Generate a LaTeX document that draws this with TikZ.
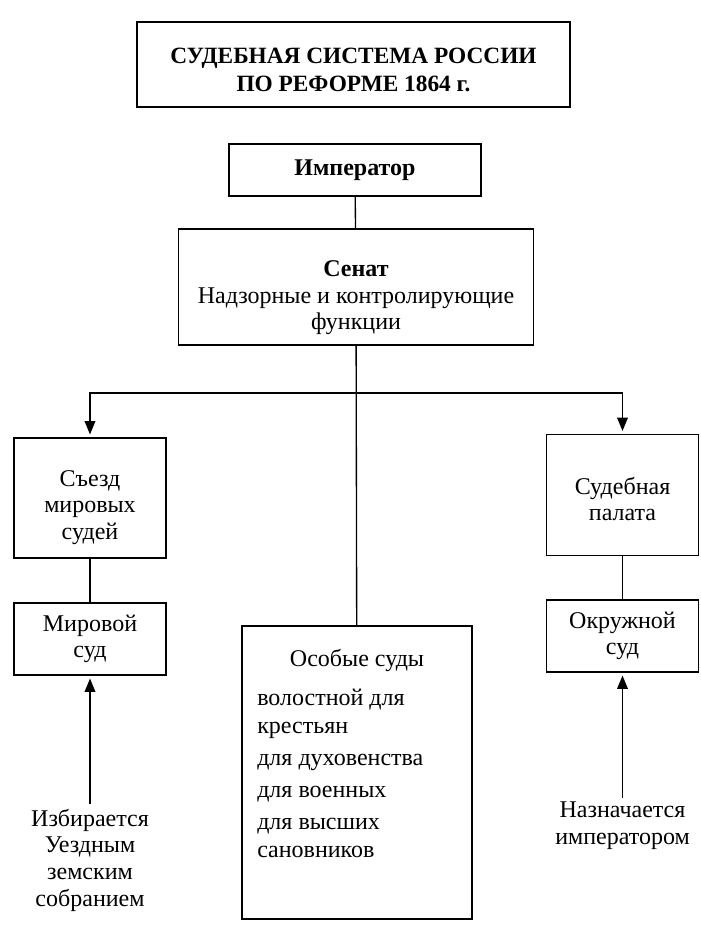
\documentclass[tikz,border=0pt]{standalone}
\usepackage{fontspec}
\setmainfont{Liberation Serif}
\usetikzlibrary{arrows.meta}

\begin{document}
\begin{tikzpicture}[
  x=0.75pt,
  y=-0.75pt,
  font=\fontsize{18}{20}\selectfont,
  court box/.style={
    draw,
    line width=1.3pt,
    align=center,
    inner sep=0pt
  },
  court link/.style={
    line width=1pt
  },
  court arrow/.style={
    line width=1pt,
    shorten >=2pt,
    -{Triangle[length=10pt,width=8pt]}
  },
]
\useasboundingbox (0,0) rectangle (700,928);
\node[court box, minimum width=324.75pt, minimum height=63.75pt, font=\fontsize{17.5}{21}\selectfont\bfseries] (title) at (353.5,64.5)
  {\rule{0pt}{20pt}СУДЕБНАЯ СИСТЕМА РОССИИ\\ПО РЕФОРМЕ 1864 г.};
\node[court box, minimum width=189pt, minimum height=39pt, font=\fontsize{18}{20}\selectfont\bfseries] (emperor) at (355,170) {Император};
\node[court box, minimum width=266.25pt, minimum height=87pt] (senate) at (356,287)
  {\rule{0pt}{28pt}\textbf{Сенат}\\Надзорные и контролирующие\\функции};
\node[court box, minimum width=114pt, minimum height=90pt] (congress) at (90,498) {\rule{0pt}{26pt}Съезд\\мировых\\судей};
\node[court box, minimum width=114pt, minimum height=54pt] (peace) at (90,639) {Мировой\\суд};
\node[court box, minimum width=114pt, minimum height=90.75pt] (chamber) at (622.5,495) {\rule{0pt}{19pt}Судебная\\палата};
\node[court box, minimum width=114pt, minimum height=54pt] (district) at (622.5,636) {Окружной\\суд};
\node[court box, minimum width=172.5pt, minimum height=219.75pt] (special) at (357,772.5) {};
\node (specialhead) at (357,660) {Особые суды};
\node[anchor=north west, align=left, inner sep=0pt, font=\fontsize{18}{21}\selectfont] (speciallist) at (257,689)
  {волостной для\\крестьян\\[3pt]для духовенства\\[3pt]для военных\\[3pt]для высших\\сановников};
\node[align=center] (elected) at (90,860) {Избирается\\Уездным\\земским\\собранием};
\node[align=center] (appointed) at (622.5,826) {Назначается\\императором};
\coordinate (fork) at (356,393);

\draw[court link] (emperor) -- (senate);
\draw[court link] (senate) -- (special);
\draw[court arrow] (fork) -| (congress);
\draw[court arrow] (fork) -| (chamber);
\draw[court link] (congress) -- (peace);
\draw[court link] (chamber) -- (district);
\draw[court arrow] (elected) -- (peace);
\draw[court arrow] (appointed) -- (district);
\end{tikzpicture}
\end{document}
